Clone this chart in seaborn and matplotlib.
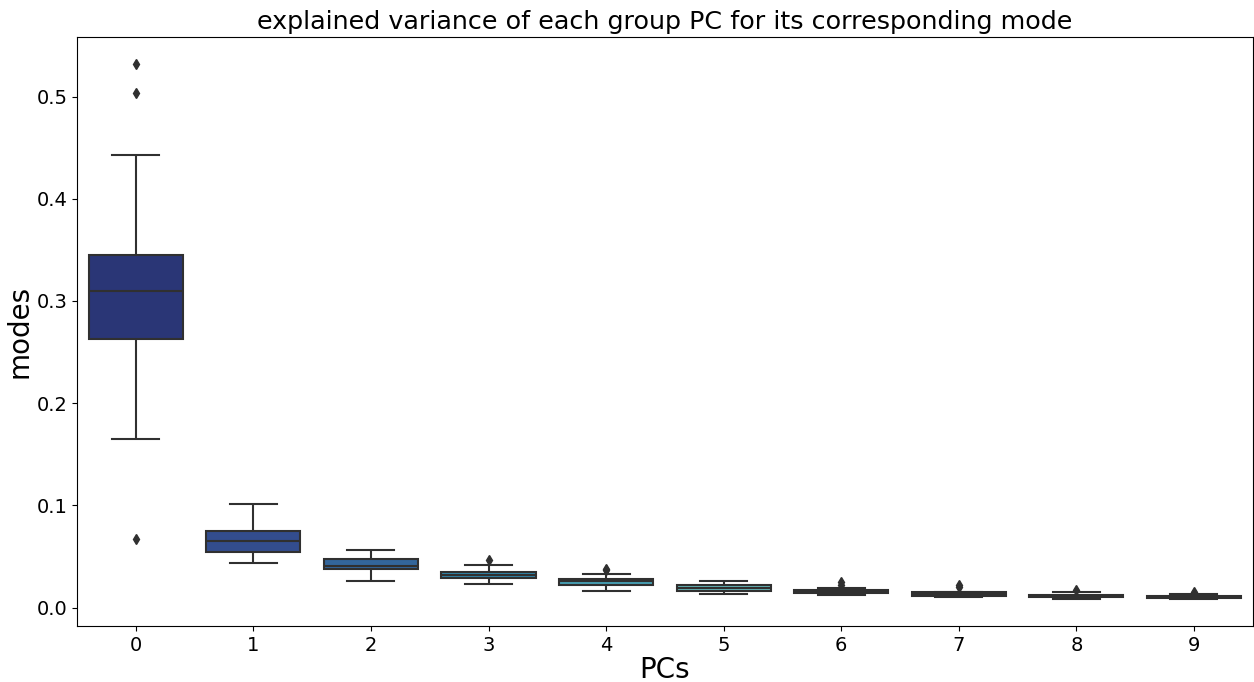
import numpy as np
import pandas as pd
import matplotlib
matplotlib.use('Agg')
import matplotlib.pyplot as plt
import seaborn as sns

# Box summaries, one entry per PC
pcs = [0, 1, 2, 3, 4, 5, 6, 7, 8, 9]
whisker_low = [0.165, 0.044, 0.0258, 0.0227, 0.0160, 0.0137, 0.0124, 0.0108, 0.0088, 0.0082]
q1 = [0.263, 0.054, 0.0376, 0.0288, 0.0225, 0.0167, 0.0140, 0.0118, 0.0100, 0.0095]
median = [0.310, 0.0647, 0.0410, 0.0317, 0.0258, 0.0196, 0.0157, 0.0133, 0.0112, 0.0105]
q3 = [0.345, 0.0745, 0.0474, 0.0353, 0.0282, 0.0222, 0.0172, 0.0150, 0.0125, 0.0118]
whisker_high = [0.443, 0.101, 0.0566, 0.0415, 0.0327, 0.0265, 0.0196, 0.0155, 0.0150, 0.0135]
outliers = [[0.067, 0.503, 0.532], [], [], [0.0467], [0.0372, 0.0382], [],
            [0.0225, 0.0252], [0.0202, 0.0225], [0.0175], [0.0155]]

# Build a sample per PC whose quartiles land on the values above
rows = []
for i, pc in enumerate(pcs):
    lo = [v for v in outliers[i] if v < q1[i]] + [whisker_low[i]]
    hi = [whisker_high[i]] + [v for v in outliers[i] if v > q3[i]]
    m = max(len(lo), len(hi))
    vals = (lo + [q1[i]] * (m - len(lo) + 1) + [median[i]] * m
            + [q3[i]] * (m - len(hi) + m) + hi)
    for v in vals:
        rows.append({'PCs': pc, 'modes': v})
df = pd.DataFrame(rows)

# palette desaturated like older seaborn defaults
colors = [sns.desaturate(c, 0.75) for c in sns.color_palette('YlGnBu_r', len(pcs))]
lum = min(matplotlib.colors.rgb_to_hsv(c)[2] * 0 + (max(c) + min(c)) / 2 for c in colors)
gray = matplotlib.colors.rgb2hex((lum * .6,) * 3)

plt.figure(figsize=(12.54, 6.82), dpi=100)
ax = sns.boxplot(data=df, x='PCs', y='modes', hue='PCs', palette=colors,
                 legend=False, saturation=1, linecolor=gray, linewidth=1.5,
                 flierprops={'marker': 'd', 'markerfacecolor': gray,
                             'markeredgecolor': gray, 'markersize': 5})
plt.title('explained variance of each group PC for its corresponding mode', fontsize=18.3)
plt.xlabel('PCs', fontsize=20, labelpad=1)
plt.ylabel('modes', fontsize=20, labelpad=2)
plt.xticks(fontsize=14)
plt.yticks(fontsize=14)
plt.subplots_adjust(left=0.0614, right=0.999, top=0.9457, bottom=0.0821)
plt.savefig('out.png', dpi=100)
